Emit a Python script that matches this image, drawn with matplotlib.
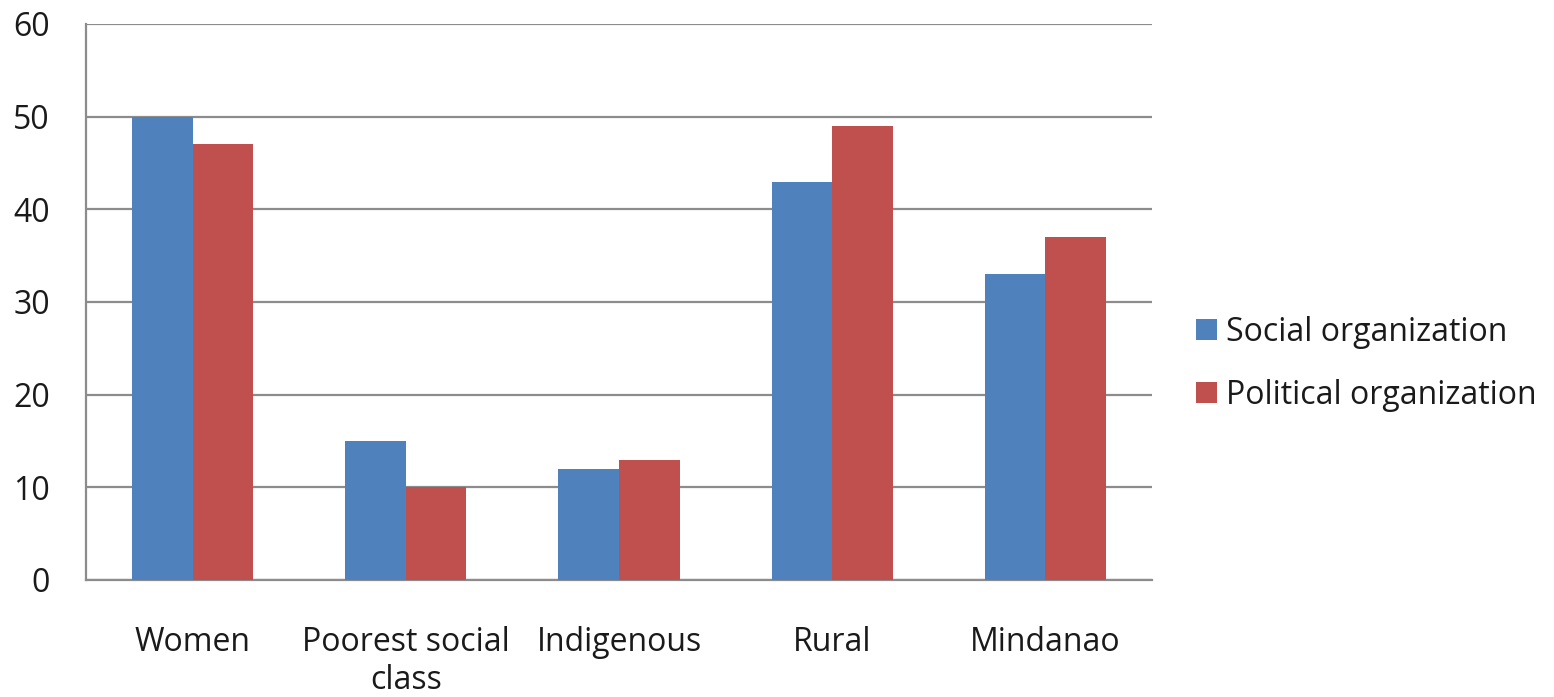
import matplotlib
matplotlib.use("Agg")
import matplotlib.pyplot as plt
import numpy as np
from matplotlib.patches import Patch

categories = ["Women", "Poorest social\nclass", "Indigenous", "Rural", "Mindanao"]
social = [50, 15, 12, 43, 33]
political = [47, 10, 13, 49, 37]
series_names = ["Social organization", "Political organization"]
yticks = [0, 10, 20, 30, 40, 50, 60]

plt.rcParams["font.family"] = ["Open Sans", "DejaVu Sans"]

fig = plt.figure(figsize=(15.54, 6.97), dpi=100)
ax = fig.add_axes([86 / 1554, 1 - 580 / 697, (1152 - 86) / 1554, (580 - 24) / 697])

blue = "#4F81BD"
red = "#C0504D"
x = np.arange(len(categories))
w = 0.284
ax.bar(x - w / 2, social, width=w, color=blue, zorder=3)
ax.bar(x + w / 2, political, width=w, color=red, zorder=3)

ax.set_xlim(-0.5, len(categories) - 0.5)
ax.set_ylim(0, 60)
ax.set_yticks(yticks)
ax.yaxis.grid(True, color="#8C8C8C", linewidth=1.6, zorder=0)
ax.set_axisbelow(True)

for s in ["top", "right"]:
    ax.spines[s].set_visible(False)
for s in ["left", "bottom"]:
    ax.spines[s].set_color("#8C8C8C")
    ax.spines[s].set_linewidth(1.6)

fs = 23
ax.set_xticks(x)
ax.set_xticklabels(categories, fontsize=fs, linespacing=1.2, color="#1a1a1a")
ax.tick_params(axis="x", length=0, pad=33, labelsize=fs)
ax.tick_params(axis="y", length=0, pad=26, labelsize=fs, labelcolor="#1a1a1a")
for lbl in ax.get_xticklabels():
    lbl.set_verticalalignment("top")

handles = [Patch(facecolor=blue), Patch(facecolor=red)]
fig.legend(handles, series_names, loc="center left",
           bbox_to_anchor=(1190 / 1554, 1 - 364 / 697), frameon=False,
           fontsize=fs, handlelength=0.63, handleheight=0.63,
           handletextpad=0.3, labelspacing=0.95, borderaxespad=0,
           borderpad=0.2, labelcolor="#1a1a1a")

fig.savefig("out.png", dpi=100)
